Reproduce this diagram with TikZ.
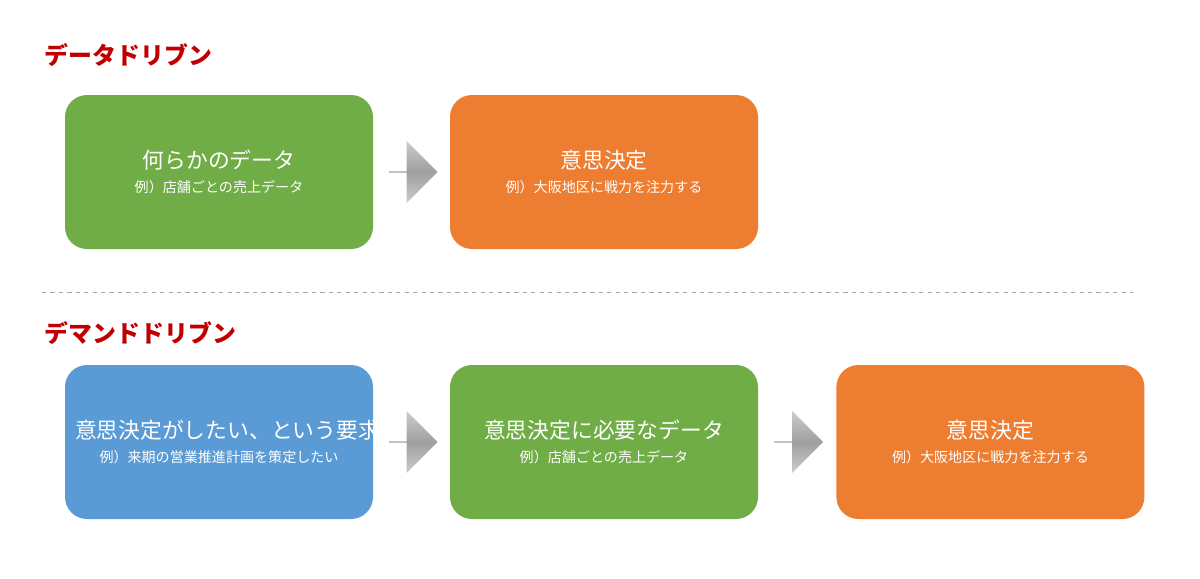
\documentclass[tikz,border=0pt]{standalone}
\usepackage{fontspec}
\setmainfont{Noto Sans CJK JP}
\usetikzlibrary{shapes.arrows}
\definecolor{dgreen}{HTML}{70AD47}
\definecolor{dorange}{HTML}{ED7D31}
\definecolor{dblue}{HTML}{5B9BD5}
\definecolor{dred}{HTML}{C00000}
\newcommand{\subtxt}{\fontsize{10}{12}\selectfont}
\begin{document}
\begin{tikzpicture}[%
      box/.style={rectangle,text=white,align=center,rounded corners=0.55cm,minimum width=7.7cm,minimum height=3.85cm,text width=7.2cm,font=\fontsize{15.5}{19}\selectfont},
      greenbox/.style={box,fill=dgreen},
      orangebox/.style={box,fill=dorange},
      bluebox/.style={box,fill=dblue},
      flowarrow/.style={single arrow,draw=none,minimum width=1.55cm,minimum height=1.22cm,single arrow head extend=0.3cm,single arrow tip angle=90,top color=gray!40,bottom color=gray!40,middle color=gray!75,inner sep=0pt},
      title/.style={anchor=west,text=dred,font=\fontsize{17}{20}\selectfont\bfseries}
      ]
      \useasboundingbox (0,0) rectangle (30,-14.45);
      \draw (1.0,-1.38) node[title] (T1) {データドリブン};
      \draw (5.475,-4.3) node[greenbox] (D) {何らかのデータ\\[-2pt]{\subtxt 例）店舗ごとの売上データ}};
      \draw (15.1,-4.3) node[orangebox] (K) {意思決定\\[-2pt]{\subtxt 例）大阪地区に戦力を注力する}};
      \draw (10.32,-4.3) node[flowarrow] (A1) {};
      \draw[gray!70,dashed] (1.05,-7.3) -- (28.33,-7.3);
      \draw (1.0,-8.33) node[title] (T2) {デマンドドリブン};
      \draw (5.475,-11.05) node[bluebox] (Y) {意思決定がしたい、という要求\\[-2pt]{\subtxt 例）来期の営業推進計画を策定したい}};
      \draw (15.1,-11.05) node[greenbox] (N) {意思決定に必要なデータ\\[-2pt]{\subtxt 例）店舗ごとの売上データ}};
      \draw (24.76,-11.05) node[orangebox] (K2) {意思決定\\[-2pt]{\subtxt 例）大阪地区に戦力を注力する}};
      \draw (10.32,-11.05) node[flowarrow] (A2) {};
      \draw (19.96,-11.05) node[flowarrow] (A3) {};
    \end{tikzpicture}
\end{document}
